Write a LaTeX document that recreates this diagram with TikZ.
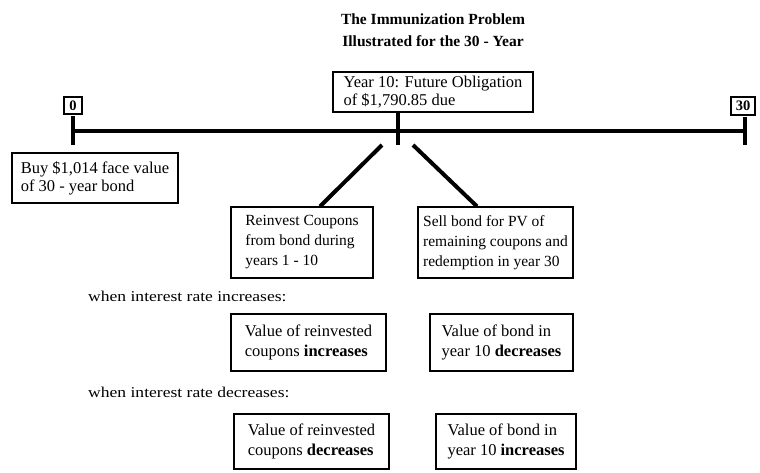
\documentclass[tikz,border=0pt]{standalone}
\usepackage{fontspec}
\setmainfont{Liberation Serif}
\usetikzlibrary{calc}
\begin{document}
\begin{tikzpicture}[x=1pt,y=-1pt,
  tbox/.style={draw, line width=1.2pt, inner xsep=4pt, inner ysep=1pt, align=left},
  bigtxt/.style={font=\fontsize{16.5}{18}\selectfont},
  midtxt/.style={font=\fontsize{15.5}{20}\selectfont},
  lowtxt/.style={font=\fontsize{16.5}{20}\selectfont},
  numbox/.style={draw, line width=1.2pt, inner sep=0pt, font=\bfseries\fontsize{14.5}{14.5}\selectfont},
  heavy/.style={line width=4pt},
  note/.style={anchor=west, inner sep=0pt, font=\fontsize{15}{15}\selectfont},
  titletxt/.style={align=center, font=\bfseries\fontsize{15.5}{22}\selectfont}]
\useasboundingbox (0,0) rectangle (760,472);

% title
\node[titletxt] (title) at (433,30) {The Immunization Problem\\Illustrated for the 30 - Year};

% timeline points
\coordinate (t0) at (73,131);
\coordinate (t10) at (398,131);
\coordinate (t30) at (745,131);
\coordinate (k0) at (73,145);
\coordinate (k10) at (398,145);
\coordinate (k30) at (745,145);
\coordinate (d1) at (382,145);
\coordinate (d2) at (413,145);

% boxes
\node[numbox, minimum width=18pt, minimum height=17pt] (n0) at (73,105.5) {0};
\node[numbox, minimum width=24pt, minimum height=18pt] (n30) at (743,106) {30};
\node[tbox, bigtxt, minimum width=200pt, minimum height=40pt] (y10) at (433,92)
  {Year 10: Future Obligation\\of \$1,790.85 due};
\node[tbox, bigtxt, minimum width=166pt, minimum height=50pt] (buy) at (95,178)
  {Buy \$1,014 face value\\of 30 - year bond};
\node[tbox, midtxt, minimum width=142pt, minimum height=71pt] (reinv) at (302,242.5)
  {Reinvest Coupons\\from bond during\\years 1 - 10};
\node[tbox, midtxt, minimum width=155pt, minimum height=71pt] (sell) at (495.5,242.5)
  {Sell bond for PV of\\remaining coupons and\\redemption in year 30};

\node[note] (w1) at (88,296) {\scalebox{1.17}[1]{when interest rate increases:}};
\node[tbox, lowtxt, minimum width=155pt, minimum height=57pt] (b1) at (308.5,342.5)
  {Value of reinvested\\coupons \textbf{increases}};
\node[tbox, lowtxt, minimum width=143pt, minimum height=57pt] (b2) at (501.5,342.5)
  {Value of bond in\\year 10 \textbf{decreases}};

\node[note] (w2) at (88,392) {\scalebox{1.17}[1]{when interest rate decreases:}};
\node[tbox, lowtxt, minimum width=155pt, minimum height=55pt] (b3) at (311.5,441.5)
  {Value of reinvested\\coupons \textbf{decreases}};
\node[tbox, lowtxt, minimum width=140pt, minimum height=55pt] (b4) at (506,441.5)
  {Value of bond in\\year 10 \textbf{increases}};

% timeline and ticks
\draw[heavy] (t0) -- (t30);
\draw[heavy, shorten <=1.5pt] (n0.south) -- (k0);
\draw[heavy] (y10.south -| t10) -- (k10);
\draw[heavy, shorten <=1.5pt] (n30.south -| t30) -- (k30);

% branches
\draw[heavy] (d1) -- ($(reinv.north)+(18,0)$);
\draw[heavy] (d2) -- ($(sell.north)+(-18.5,0)$);
\end{tikzpicture}
\end{document}
